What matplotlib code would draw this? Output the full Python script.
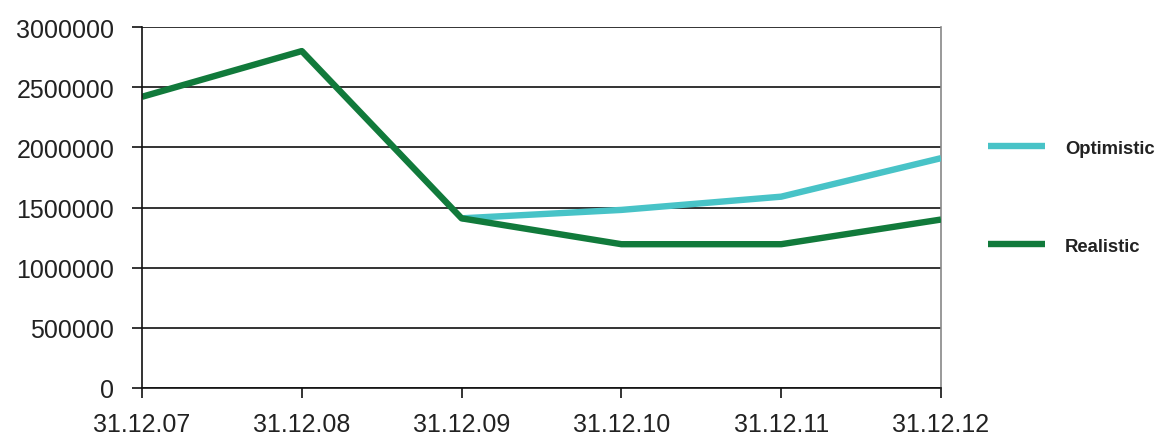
import matplotlib
matplotlib.use("Agg")
import matplotlib.pyplot as plt
import numpy as np

categories = ["31.12.07", "31.12.08", "31.12.09", "31.12.10", "31.12.11", "31.12.12"]
realistic = [2420000, 2800000, 1410000, 1195000, 1195000, 1400000]
optimistic = [None, None, 1410000, 1480000, 1590000, 1910000]
yticks = [0, 500000, 1000000, 1500000, 2000000, 2500000, 3000000]

plt.rcParams['font.family'] = ['Liberation Sans', 'DejaVu Sans']

fig = plt.figure(figsize=(11.57, 4.39), dpi=100)
ax = fig.add_axes([142/1157, 1-389/439, (941-142)/1157, (389-28)/439])

x = np.arange(len(categories))
opt = np.array([np.nan if v is None else v for v in optimistic], dtype=float)

ax.plot(x, opt, color="#48C3C7", lw=4.6, solid_capstyle="butt", label="Optimistic", zorder=3)
ax.plot(x, realistic, color="#117A3B", lw=4.6, solid_capstyle="butt", label="Realistic", zorder=4)

ax.set_xlim(0, len(categories)-1)
ax.set_ylim(0, 3000000)
ax.set_yticks(yticks)
ax.set_yticklabels([str(v) for v in yticks], fontsize=18, color="#222222")
ax.set_xticks(x)
ax.set_xticklabels(categories, fontsize=18, color="#222222")
ax.yaxis.grid(True, color="#111111", lw=1.2)
ax.set_axisbelow(True)
ax.tick_params(axis='y', length=7, width=1.2, color="#111111", pad=13)
ax.tick_params(axis='x', length=7, width=1.2, color="#111111", pad=10)

ax.spines["top"].set_visible(False)
ax.spines["right"].set_color("#888888")
ax.spines["right"].set_linewidth(1.2)
for s in ["left", "bottom"]:
    ax.spines[s].set_color("#111111")
    ax.spines[s].set_linewidth(1.2)
ax.spines["left"].set_zorder(5)

leg = fig.legend(handles=ax.get_lines(), labels=["Optimistic", "Realistic"],
                 loc="upper left", bbox_to_anchor=(971/1157, 1-124/439),
                 frameon=False, handlelength=3.1, handletextpad=1.1,
                 labelspacing=4.4, prop={'weight': 'bold', 'size': 13.3})
for t in leg.get_texts():
    t.set_color("#222222")

fig.savefig("out.png", dpi=100)
